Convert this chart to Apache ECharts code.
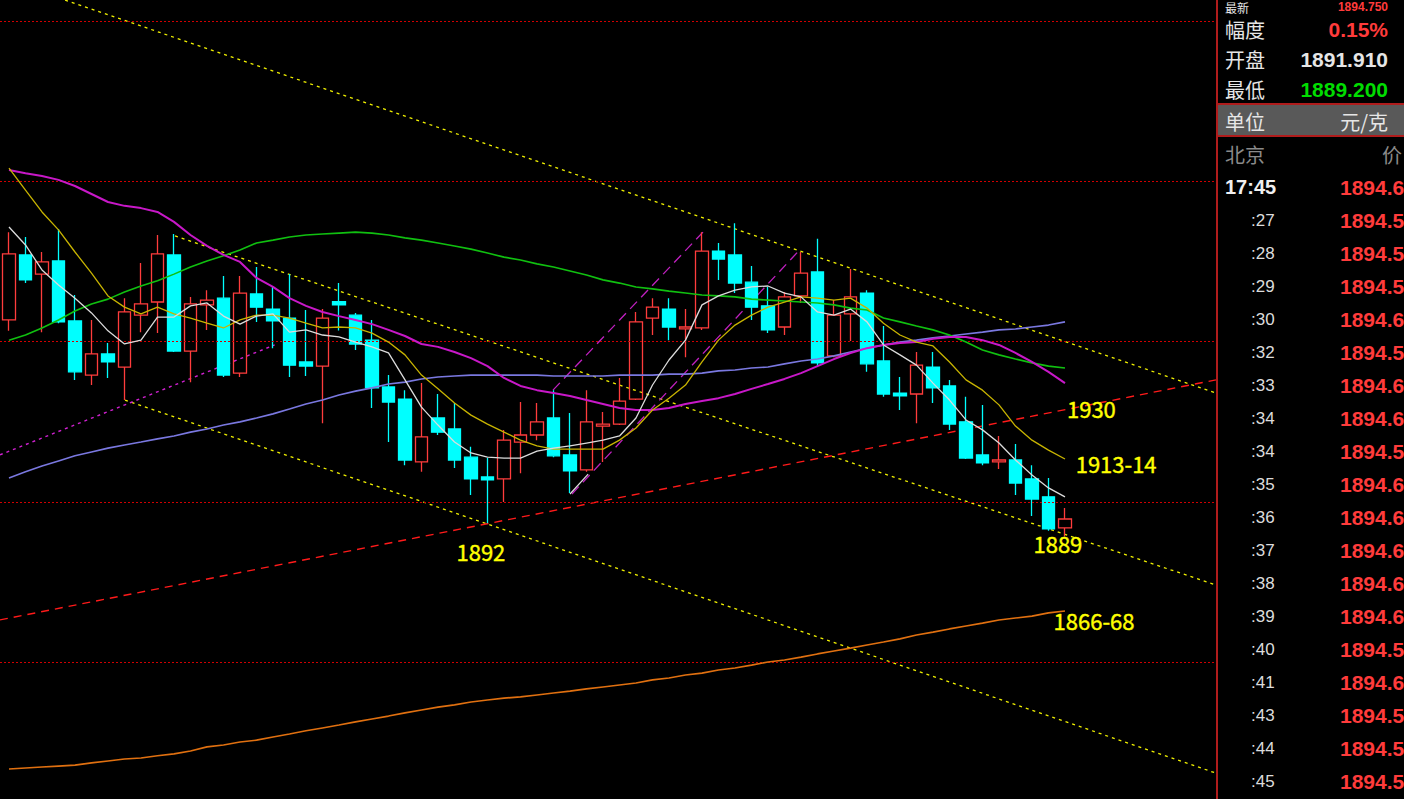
<!DOCTYPE html>
<html><head><meta charset="utf-8">
<script src="https://cdn.jsdelivr.net/npm/echarts@6/dist/echarts.min.js"></script>
<style>html,body{margin:0;padding:0;background:#000;overflow:hidden}#c{width:1404px;height:799px}</style>
</head><body><div id="c"></div>
<script>
// ---- candle data (index 0..64) ----
const opens = [1956.8,1977.1,1971.1,1975.2,1956.5,1939.6,1946.2,1942.1,1958.3,1962.4,
  1977.1,1947.1,1961.5,1963.6,1940.2,1964.9,1960.2,1957.4,1943.7,1942.4,
  1962.5,1958.3,1950.5,1935.9,1932.1,1912.5,1926.2,1922.8,1914.0,1907.8,
  1907.2,1918.7,1920.9,1926.2,1914.7,1910.0,1923.7,1924.3,1932.1,1957.4,
  1960.2,1954.0,1954.3,1978.3,1977.1,1968.6,1961.2,1954.6,1964.3,1971.8,
  1945.6,1958.7,1965.2,1944.0,1934.0,1933.7,1942.1,1936.2,1925.0,1914.7,
  1912.5,1913.1,1907.2,1901.6,1891.9];
const closes = [1977.4,1969.3,1974.9,1956.2,1940.6,1946.2,1943.7,1959.3,1961.8,1977.4,
  1947.1,1961.8,1963.0,1939.6,1965.2,1960.8,1956.5,1942.7,1942.4,1957.4,
  1961.5,1949.3,1935.6,1931.2,1913.1,1920.3,1921.8,1913.1,1907.2,1906.9,
  1919.3,1920.9,1925.0,1914.4,1909.7,1925.0,1924.3,1931.5,1956.2,1960.8,
  1954.6,1954.6,1978.3,1975.8,1968.3,1960.8,1953.7,1964.0,1971.4,1943.4,
  1958.3,1964.0,1943.1,1933.7,1933.1,1942.7,1935.6,1924.3,1913.7,1912.2,
  1913.1,1905.9,1900.9,1891.6,1894.7];
const lows = [1953.4,1968.3,1953.0,1955.8,1938.1,1936.5,1938.7,1931.8,1953.0,1952.7,
  1946.8,1937.4,1953.7,1939.0,1939.0,1956.2,1948.0,1939.0,1939.3,1924.6,
  1953.5,1947.4,1929.3,1918.7,1911.5,1909.4,1920.9,1910.6,1902.2,1893.4,
  1900.0,1909.0,1919.3,1914.0,1902.8,1909.4,1912.5,1924.0,1931.8,1952.1,
  1950.5,1945.2,1953.7,1969.3,1965.2,1956.8,1952.7,1952.1,1962.1,1942.4,
  1945.2,1950.2,1940.6,1932.8,1928.7,1924.6,1930.9,1922.5,1913.4,1911.5,
  1910.3,1902.2,1895.6,1891.0,1889.2];
const highs = [1984.2,1982.7,1978.0,1985.2,1964.6,1956.8,1949.6,1963.6,1974.6,1983.3,
  1983.6,1964.0,1966.1,1970.5,1970.5,1973.3,1967.1,1971.1,1959.9,1960.2,
  1968.3,1959.0,1956.8,1939.6,1934.9,1937.1,1933.7,1930.9,1917.2,1913.7,
  1922.5,1931.2,1930.9,1934.9,1927.8,1934.9,1928.1,1938.7,1959.3,1963.6,
  1963.6,1960.2,1984.2,1980.8,1987.0,1973.6,1967.1,1965.5,1978.0,1982.1,
  1963.0,1972.7,1966.1,1954.9,1939.0,1946.8,1946.8,1938.1,1932.8,1930.3,
  1920.6,1918.1,1911.5,1907.5,1898.1];

// ---- moving averages ----
const maWhite = [1985.8,1980.2,1972.4,1967.7,1963.6,1959.0,1953.4,1949.3,1950.5,1957.7,
  1957.7,1961.2,1962.1,1958.0,1955.5,1958.0,1958.7,1953.0,1953.7,1952.1,
  1951.5,1949.9,1948.4,1946.5,1938.1,1929.6,1924.0,1918.7,1915.3,1914.0,
  1913.7,1913.7,1915.9,1916.8,1917.5,1918.4,1919.3,1920.6,1926.2,1936.5,
  1944.3,1950.5,1961.5,1964.3,1966.1,1967.1,1967.4,1965.2,1964.0,1959.3,
  1958.3,1960.2,1956.2,1949.0,1945.9,1942.7,1937.1,1931.8,1925.6,1922.5,
  1918.4,1913.1,1908.4,1904.4,1901.6];
const maYellow = [2004.2,1997.3,1990.5,1984.9,1978.0,1971.4,1964.3,1960.8,1958.7,1960.8,
  1958.7,1957.4,1955.8,1954.3,1956.8,1958.3,1958.3,1957.4,1955.8,1954.3,
  1954.6,1954.3,1952.7,1949.9,1945.9,1939.6,1935.3,1930.9,1927.1,1924.3,
  1921.8,1919.3,1917.5,1916.5,1916.5,1916.5,1916.5,1919.3,1923.1,1928.7,
  1932.4,1936.5,1943.7,1950.5,1955.2,1958.3,1960.8,1962.4,1964.0,1963.6,
  1963.0,1963.6,1960.5,1955.8,1952.1,1949.9,1948.7,1943.7,1938.1,1934.9,
  1930.3,1923.7,1919.3,1916.2,1913.4];
const maMagenta = [2003.6,2002.6,2001.7,2000.5,1998.6,1996.1,1993.6,1992.4,1991.7,1990.5,
  1987.4,1983.3,1979.9,1977.1,1974.9,1969.9,1967.1,1963.6,1961.2,1959.3,
  1958.0,1956.8,1955.5,1953.7,1951.8,1949.3,1948.4,1946.8,1944.9,1942.4,
  1938.7,1936.2,1934.9,1934.0,1933.1,1931.8,1930.6,1929.3,1928.7,1928.7,
  1929.3,1930.6,1931.5,1932.4,1933.7,1935.3,1936.8,1938.4,1940.2,1942.4,
  1944.6,1946.5,1948.0,1949.0,1949.6,1949.9,1950.9,1951.5,1951.5,1950.5,
  1949.0,1946.5,1943.7,1940.6,1937.1];
const maGreen = [1950.5,1952.1,1954.3,1956.8,1959.6,1961.8,1963.3,1965.5,1967.4,1969.0,
  1971.1,1973.3,1975.2,1976.8,1978.6,1980.8,1981.7,1982.7,1983.3,1983.6,
  1983.9,1984.2,1983.9,1983.3,1982.4,1981.7,1980.8,1979.9,1978.9,1977.7,
  1976.4,1975.5,1974.3,1973.3,1972.1,1970.8,1969.3,1968.3,1967.1,1966.5,
  1965.8,1965.2,1964.6,1964.3,1964.0,1963.3,1963.0,1962.7,1962.4,1962.1,
  1961.5,1960.5,1959.9,1957.4,1956.2,1954.9,1953.7,1952.1,1949.9,1947.4,
  1945.9,1944.6,1943.4,1942.4,1941.8];
const maBlue = [1907.5,1909.4,1911.2,1912.8,1914.4,1915.6,1916.8,1917.8,1918.7,1919.7,
  1920.6,1921.8,1922.8,1924.0,1925.0,1926.2,1927.5,1929.0,1930.6,1931.8,
  1933.4,1934.6,1935.6,1936.8,1937.4,1938.4,1939.0,1939.3,1939.6,1939.6,
  1939.6,1939.6,1939.6,1939.3,1939.3,1939.3,1939.3,1939.6,1939.6,1939.6,
  1939.9,1939.9,1940.2,1940.9,1941.2,1941.8,1942.1,1943.1,1944.0,1944.6,
  1945.6,1946.8,1948.0,1949.0,1949.9,1950.5,1951.2,1951.8,1952.4,1953.0,
  1953.7,1954.0,1954.6,1955.2,1956.2];
const maOrange = [1816.7,1817.0,1817.3,1817.6,1817.9,1818.6,1819.2,1819.8,1820.1,1820.8,
  1821.4,1822.3,1823.6,1824.2,1825.1,1825.7,1826.7,1827.6,1828.6,1829.5,
  1830.4,1831.4,1832.3,1833.2,1834.2,1835.1,1836.0,1836.7,1837.6,1838.2,
  1838.8,1839.2,1839.8,1840.4,1841.0,1841.7,1842.3,1842.9,1843.5,1844.5,
  1845.1,1846.0,1846.6,1847.6,1848.2,1849.1,1850.1,1850.7,1851.6,1852.6,
  1853.5,1854.4,1855.4,1856.3,1857.3,1858.5,1859.4,1860.4,1861.3,1862.2,
  1863.2,1863.8,1864.4,1865.4,1866.0];

// ---- hand-drawn trend lines: [index, price] endpoints ----
const channelTop = [[3.4, 2056.6], [73.15, 1934.0]];
const channelMid = [[10.06, 1983.0], [73.15, 1874.1]];
const channelLow = [[7.03, 1931.8], [73.15, 1815.4]];
const redSupport = [[-0.55, 1863.2], [73.15, 1938.1]];
const pinkDotted = [[-0.55, 1914.7], [16.1, 1949.0]];
const pinkUpA = [[32.97, 1934.9], [42.06, 1984.2]];
const pinkUpB = [[34.12, 1902.5], [47.8, 1978.0]];
const whiteStub = [[34.0, 1902.5], [35.1, 1908.7]];

// ---- annotations ----
const noteTexts = ['1892', '1889', '1930', '1913-14', '1866-68'];
const noteIdx = [28.6, 63.57, 65.6, 67.1, 65.76];
const notePrice = [1884.7, 1887.2, 1929.3, 1912.2, 1863.2];

const gridLevels = [1850, 1900, 1950, 2000, 2050];

// ---- right panel texts ----
const quoteLabels = ['最新', '幅度', '开盘', '最低', '单位'];
const quoteValues = ['1894.750', '0.15%', '1891.910', '1889.200', '元/克'];
const quoteColors = ['#ff3b3b', '#ff3b3b', '#e6e6e6', '#00dd00', '#e6e6e6'];
const tickTimes = ['17:45', ':27', ':28', ':29', ':30', ':32', ':33', ':34', ':34', ':35', ':36', ':37', ':38', ':39', ':40', ':41', ':43', ':44', ':45'];
const tickPrices = ['1894.6', '1894.5', '1894.5', '1894.5', '1894.6', '1894.5', '1894.6', '1894.6', '1894.5', '1894.6', '1894.6', '1894.6', '1894.6', '1894.6', '1894.5', '1894.6', '1894.5', '1894.5', '1894.5'];

const chart = echarts.init(document.getElementById('c'), null, {renderer: 'svg'});

function line(data, color, width, type, z) {
  return {type: 'line', data: data, symbol: 'none', showSymbol: false, silent: true,
    lineStyle: {color: color, width: width, type: type || 'solid'}, z: z || 3, animation: false};
}
const ix = arr => arr.map((v, i) => [i, v]);

function txt(x, y, t, fill, size, family, bold, align) {
  return {type: 'text', x: x, y: y, z: 12,
    style: {text: t, fill: fill, font: (bold ? 'bold ' : '') + size + 'px ' + family,
      lineHeight: size, align: align, verticalAlign: 'middle', textAlign: align, textVerticalAlign: 'middle'}};
}
const CN = "'Noto Sans CJK SC'", LS = "'Liberation Sans'";

const graphics = [];
graphics.push({type: 'rect', shape: {x: 1218, y: 104, width: 186, height: 32}, style: {fill: '#595959'}, z: 10});
graphics.push({type: 'line', shape: {x1: 1217, y1: 0, x2: 1217, y2: 799}, style: {stroke: '#b01c1c', lineWidth: 2}, z: 11});
graphics.push({type: 'line', shape: {x1: 1217, y1: 104, x2: 1404, y2: 104}, style: {stroke: '#b01c1c', lineWidth: 2}, z: 11});
graphics.push({type: 'line', shape: {x1: 1217, y1: 136, x2: 1404, y2: 136}, style: {stroke: '#b01c1c', lineWidth: 2}, z: 11});
const quoteY = [7, 29, 59, 89, 121];
quoteLabels.forEach((t, i) => {
  const top = i === 0;
  graphics.push(txt(1225, quoteY[i], t, '#e6e6e6', top ? 12 : 20, CN, false, 'left'));
  const isCn = i === 4;
  graphics.push(txt(1388, quoteY[i], quoteValues[i], quoteColors[i],
    isCn ? 20 : (top ? 12 : 21), isCn ? CN : LS, !isCn, 'right'));
});
graphics.push(txt(1225, 154, '北京', '#8a8a8a', 20, CN, false, 'left'));
graphics.push(txt(1382, 154, '价', '#8a8a8a', 20, CN, false, 'left'));
tickTimes.forEach((t, i) => {
  const y = 187 + 33.05 * i;
  const first = i === 0;
  graphics.push(txt(first ? 1225 : 1251, y, t, first ? '#f0f0f0' : '#dcdcdc',
    first ? 20 : 17, LS, first, 'left'));
  graphics.push(txt(1340, y, tickPrices[i], '#ff3b3b', 21, LS, true, 'left'));
});

const option = {
  backgroundColor: '#000000',
  animation: false,
  grid: {left: 0, right: 188, top: 0, bottom: 0, containLabel: false},
  xAxis: {type: 'value', min: -0.545, max: 73.152, show: false, splitLine: {show: false}},
  yAxis: {type: 'value', min: 1807.33, max: 2056.63, show: false, scale: true, splitLine: {show: false}},
  graphic: {elements: graphics},
  series: [
    line(channelTop, '#f0f000', 1.3, [3, 4], 2),
    line(channelMid, '#f0f000', 1.3, [3, 4], 2),
    line(channelLow, '#f0f000', 1.3, [3, 4], 2),
    line(redSupport, '#ff1a1a', 1.4, [8, 6], 2),
    line(pinkDotted, '#d020d0', 1.4, [3, 4], 2),
    line(pinkUpA, '#c020c0', 1.3, [10, 6], 2),
    line(pinkUpB, '#c020c0', 1.3, [10, 6], 2),
    line(whiteStub, '#e0e0e0', 1.2, 'solid', 2),
    {
      type: 'candlestick', z: 4, silent: true,
      data: opens.map((o, i) => [i, o, closes[i], lows[i], highs[i]]),
      encode: {x: 0, y: [1, 2, 3, 4]},
      barWidth: 13,
      itemStyle: {color: 'rgba(0,0,0,0)', color0: '#00ffff', borderColor: '#ff3c3c', borderColor0: '#00ffff', borderWidth: 1.3},
      markLine: {
        silent: true, symbol: ['none', 'none'], label: {show: false},
        lineStyle: {color: '#d00000', type: [2, 2], width: 1, opacity: 1},
        data: gridLevels.map(v => ({yAxis: v}))
      }
    },
    line(ix(maOrange), '#e07010', 1.6, 'solid', 5),
    line(ix(maBlue), '#7a78e0', 1.6, 'solid', 5),
    line(ix(maGreen), '#10c010', 1.6, 'solid', 5),
    line(ix(maMagenta), '#c818c8', 2, 'solid', 5),
    line(ix(maYellow), '#c8b400', 1.3, 'solid', 6),
    line(ix(maWhite), '#dcdcdc', 1.3, 'solid', 6),
    {
      type: 'scatter', z: 8, silent: true, symbolSize: 1,
      itemStyle: {color: 'rgba(0,0,0,0)', opacity: 1},
      data: noteTexts.map((t, i) => ({name: t, value: [noteIdx[i], notePrice[i]]})),
      label: {show: true, position: 'inside', formatter: p => p.name, color: '#ffff00', opacity: 1,
        fontSize: 22, fontFamily: "'Noto Sans CJK SC'", textBorderColor: '#ffff00', textBorderWidth: 0.4}
    }
  ]
};
chart.setOption(option);
</script></body></html>
